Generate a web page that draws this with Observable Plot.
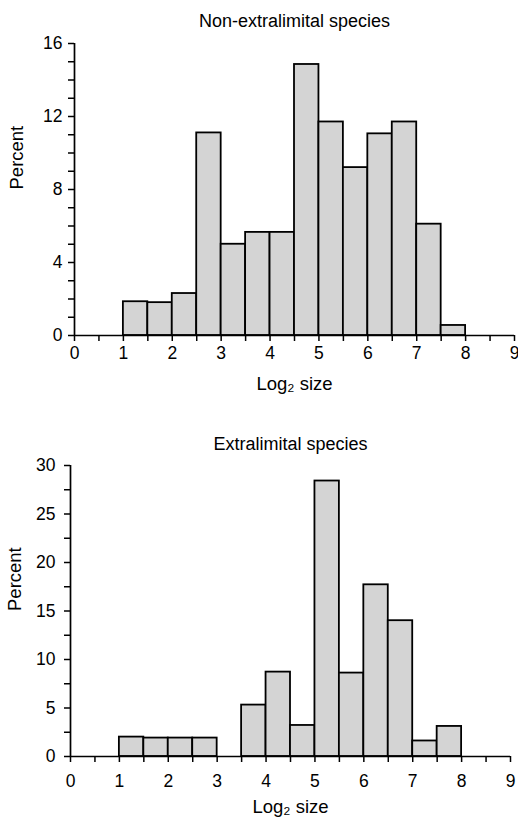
<!DOCTYPE html>
<html><head><meta charset="utf-8">
<script src="https://cdn.jsdelivr.net/npm/d3@7"></script>
<script src="https://cdn.jsdelivr.net/npm/@observablehq/plot@0.6"></script>
<style>
body{margin:0;background:#fff;font-family:"Liberation Sans",Arial,Helvetica,sans-serif}
</style>
</head><body><div id="top"></div><div id="bottom"></div>
<script>
// Bin starts (log2 size), width 0.5
const binStarts = [1, 1.5, 2, 2.5, 3, 3.5, 4, 4.5, 5, 5.5, 6, 6.5, 7, 7.5];
const binWidth = 0.5;
// Percent of species per bin
const nonExtralimital = [1.85, 1.8, 2.3, 11.1, 5.0, 5.65, 5.65, 14.85, 11.7, 9.2, 11.05, 11.7, 6.1, 0.55];
const extralimital = [2.0, 1.9, 1.9, 1.9, 0, 5.3, 8.7, 3.2, 28.4, 8.6, 17.7, 14.0, 1.6, 3.1];
// Tick values
const xTickValues = [0, 0.5, 1, 1.5, 2, 2.5, 3, 3.5, 4, 4.5, 5, 5.5, 6, 6.5, 7, 7.5, 8, 8.5, 9];
const xTickLabels = [0, 1, 2, 3, 4, 5, 6, 7, 8, 9];
const topYTicks = [0, 1, 2, 3, 4, 5, 6, 7, 8, 9, 10, 11, 12, 13, 14, 15, 16];
const topYLabels = [0, 4, 8, 12, 16];
const bottomYTicks = [0, 2.5, 5, 7.5, 10, 12.5, 15, 17.5, 20, 22.5, 25, 27.5, 30];
const bottomYLabels = [0, 5, 10, 15, 20, 25, 30];
const titles = ["Non-extralimital species", "Extralimital species"];
const xLabel = "Log\u2082 size";
const yLabel = "Percent";

function chart(o) {
  const data = binStarts.map((x, i) => ({x1: x, x2: x + binWidth, y: o.values[i]})).filter(d => d.y > 0);
  return Plot.plot({
    width: 518, height: o.height,
    marginTop: o.mt, marginBottom: o.mb, marginLeft: o.ml, marginRight: o.mr,
    style: {fontFamily: '"Liberation Sans", Arial, sans-serif', fontSize: "17px", color: "#000", background: "#fff", overflow: "visible"},
    x: {domain: [0, 9]},
    y: {domain: [0, o.yMax]},
    marks: [
      Plot.rectY(data, {x1: "x1", x2: "x2", y: "y", fill: "#d4d4d4", stroke: "#000", strokeWidth: 1.8}),
      Plot.ruleY([0], {stroke: "#000", strokeWidth: 1.7}),
      Plot.ruleX([0], {stroke: "#000", strokeWidth: 1.7}),
      Plot.axisX({ticks: xTickValues, tickSize: 6, tickPadding: o.xPad, strokeWidth: 1.5, fontSize: 17.5,
        tickFormat: d => xTickLabels.includes(d) ? String(d) : "", label: null}),
      Plot.axisY({ticks: o.yTicks, tickSize: 6, tickPadding: o.yPad, strokeWidth: 1.5, fontSize: 17.5,
        tickFormat: d => o.yLabels.includes(d) ? String(d) : "", label: null}),
      Plot.text([o.title], {frameAnchor: "top", dy: o.titleDy, fontSize: 18}),
      Plot.text([xLabel], {frameAnchor: "bottom", dy: o.labDy, fontSize: 18.5}),
      Plot.text([yLabel], {frameAnchor: "left", dx: o.pDx, rotate: -90, fontSize: 18.5})
    ]
  });
}

document.getElementById("top").append(chart({
  values: nonExtralimital, title: titles[0], yMax: 16, yTicks: topYTicks, yLabels: topYLabels,
  height: 400, mt: 43, mb: 65, ml: 74, mr: 4, xPad: 5, yPad: 6, titleDy: -29, pDx: -57, labDy: 54
}));
document.getElementById("bottom").append(chart({
  values: extralimital, title: titles[1], yMax: 30, yTicks: bottomYTicks, yLabels: bottomYLabels,
  height: 422, mt: 65, mb: 66, ml: 70, mr: 8, xPad: 12, yPad: 9, titleDy: -28, pDx: -55, labDy: 56
}));
</script>
</body></html>
